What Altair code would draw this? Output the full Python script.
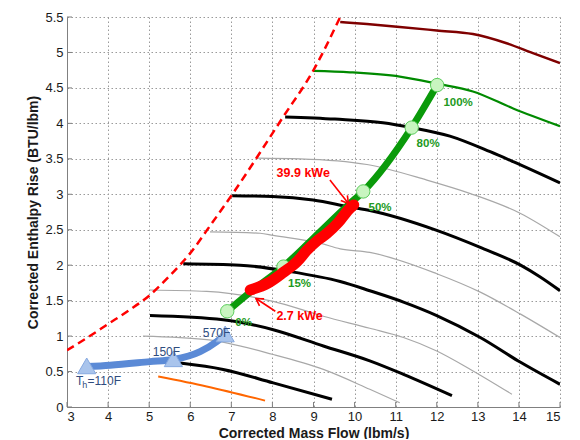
import math
import altair as alt
import pandas as pd

# ---------------- data ----------------
x_ticks = [3, 4, 5, 6, 7, 8, 9, 10, 11, 12, 13, 14, 15]
y_ticks = [0, 0.5, 1, 1.5, 2, 2.5, 3, 3.5, 4, 4.5, 5, 5.5]

surge_x = [3.0, 3.5, 4.0, 4.5, 5.0, 5.5, 6.0, 6.5, 7.0, 8.26, 9.0, 9.65]
surge_y = [0.80, 0.98, 1.17, 1.36, 1.57, 1.85, 2.17, 2.57, 2.98, 4.09, 4.75, 5.5]

maroon_x = [9.65, 10.3, 11.1, 12.0, 12.88, 13.7, 14.34, 15.0]
maroon_y = [5.43, 5.40, 5.36, 5.31, 5.26, 5.13, 4.99, 4.85]

green_speed_x = [8.99, 9.89, 11.1, 12.01, 12.88, 13.86, 15.0]
green_speed_y = [4.74, 4.72, 4.66, 4.56, 4.45, 4.21, 3.96]

black1_x = [8.31, 9.52, 10.69, 11.39, 12.32, 13.3, 13.86, 15.0]
black1_y = [4.09, 4.06, 4.01, 3.94, 3.82, 3.60, 3.46, 3.16]
black2_x = [7.02, 8.0, 8.99, 9.89, 10.37, 12.0, 13.06, 14.04, 14.5, 15.0]
black2_y = [2.98, 2.97, 2.92, 2.82, 2.77, 2.49, 2.25, 2.00, 1.84, 1.64]
black3_x = [5.83, 7.21, 8.43, 9.65, 10.37, 11.19, 12.0, 13.06, 14.04, 15.0]
black3_y = [2.02, 2.00, 1.91, 1.77, 1.64, 1.48, 1.29, 0.98, 0.63, 0.32]
black4_x = [5.02, 6.80, 8.02, 9.24, 10.37, 11.19, 12.37]
black4_y = [1.29, 1.23, 1.09, 0.86, 0.65, 0.46, 0.16]
black5_x = [5.75, 6.80, 8.02, 9.45]
black5_y = [0.62, 0.53, 0.34, 0.11]

gray1_x = [7.62, 8.67, 10.3, 11.76, 12.82, 14.04, 15.0]
gray1_y = [3.51, 3.50, 3.42, 3.20, 3.01, 2.73, 2.40]
gray2_x = [6.48, 7.70, 8.02, 9.16, 9.65, 10.37, 12.0, 13.06, 14.04, 15.0]
gray2_y = [2.47, 2.45, 2.42, 2.31, 2.23, 2.18, 1.88, 1.62, 1.31, 0.98]
gray3_x = [5.02, 6.40, 8.02, 9.24, 10.37, 11.19, 12.0, 12.82, 13.83]
gray3_y = [1.65, 1.63, 1.49, 1.28, 1.11, 0.98, 0.79, 0.53, 0.18]
gray4_x = [4.85, 6.40, 8.02, 9.24, 10.37, 11.1]
gray4_y = [1.00, 0.95, 0.74, 0.53, 0.25, 0.06]

orange_x = [5.22, 6.40, 7.82]
orange_y = [0.43, 0.29, 0.09]

blue_x = [3.48, 4.05, 5.02, 5.59, 6.24, 6.64, 6.85]
blue_y = [0.57, 0.59, 0.64, 0.67, 0.78, 0.92, 1.02]
blue_tri_x = [3.48, 5.59, 6.85]
blue_tri_y = [0.58, 0.68, 1.03]
blue_labels = ["570F", "150F"]
blue_label_x = [6.64, 5.42]
blue_label_y = [1.05, 0.77]
th_parts = ["T", "h", "=110F"]
th_x = [3.22, 3.37, 3.50]
th_y = [0.36, 0.31, 0.36]

op_x = [6.90, 7.46, 8.27, 9.0, 9.85, 10.21, 11.39, 12.01]
op_y = [1.35, 1.62, 1.98, 2.38, 2.85, 3.04, 3.94, 4.54]
op_mark_x = [6.90, 8.27, 10.21, 11.39, 12.01]
op_mark_y = [1.35, 1.98, 3.04, 3.94, 4.54]
pct_labels = ["0%", "15%", "50%", "80%", "100%"]
pct_x = [7.30, 8.66, 10.62, 11.79, 12.52]
pct_y = [1.18, 1.74, 2.80, 3.71, 4.29]

red_x = [7.46, 7.9, 8.27, 8.6, 8.84, 9.1, 9.33, 9.6, 9.85, 9.98]
red_y = [1.65, 1.75, 1.90, 2.05, 2.21, 2.35, 2.45, 2.60, 2.78, 2.85]

kwe_labels = ["39.9 kWe", "2.7 kWe"]
kwe_x = [8.75, 8.66]
kwe_y = [3.30, 1.29]
arrow_tail_x = [9.40, 8.07]
arrow_tail_y = [3.20, 1.35]
arrow_tip_x = [9.85, 7.60]
arrow_tip_y = [2.87, 1.53]

# ---------------- helpers ----------------
W, H = 493, 390
X_DOM = [3, 15]
Y_DOM = [0, 5.5]


def lines_df(pairs):
    rows = []
    for i, (xs_, ys_) in enumerate(pairs):
        for j, (a, b) in enumerate(zip(xs_, ys_)):
            rows.append({"id": i, "o": j, "x": a, "y": b})
    return pd.DataFrame(rows)


xs = alt.Scale(domain=X_DOM, nice=False, zero=False)
ys = alt.Scale(domain=Y_DOM, nice=False, zero=False)
x_axis = alt.Axis(values=x_ticks, title="Corrected Mass Flow (lbm/s)", format="~g")
y_axis = alt.Axis(values=y_ticks, title="Corrected Enthalpy Rise (BTU/lbm)", format="~g")
X = alt.X("x:Q", scale=xs, axis=x_axis)
Y = alt.Y("y:Q", scale=ys, axis=y_axis)


def line_layer(pairs, color, width, **kw):
    return alt.Chart(lines_df(pairs)).mark_line(
        color=color, strokeWidth=width, interpolate="monotone", clip=True, **kw
    ).encode(x=X, y=Y, detail="id:N", order="o:Q")


gray = line_layer([(gray1_x, gray1_y), (gray2_x, gray2_y), (gray3_x, gray3_y),
                   (gray4_x, gray4_y)], "#a8a8a8", 1.2)
black = line_layer([(black1_x, black1_y), (black2_x, black2_y), (black3_x, black3_y),
                    (black4_x, black4_y), (black5_x, black5_y)], "#000000", 3)
maroon = line_layer([(maroon_x, maroon_y)], "#7f0000", 2.5)
gspeed = line_layer([(green_speed_x, green_speed_y)], "#008a00", 2.2)
orange = line_layer([(orange_x, orange_y)], "#ff6600", 2)
surge = line_layer([(surge_x, surge_y)], "#ff0000", 2.5, strokeDash=[8, 5])
blue = line_layer([(blue_x, blue_y)], "#5b8ad6", 7, strokeCap="round")
opline = line_layer([(op_x, op_y)], "#0a9a0a", 7, strokeCap="round")
redband = line_layer([(red_x, red_y)], "#ff0000", 11, strokeCap="round", strokeJoin="round")

# inward ticks
xt = alt.Chart(pd.DataFrame({"x": x_ticks})).mark_rule(color="#7f7f7f", strokeWidth=1).encode(
    x=X, y=alt.value(H - 5), y2=alt.value(H))
yt = alt.Chart(pd.DataFrame({"y": y_ticks})).mark_rule(color="#7f7f7f", strokeWidth=1).encode(
    y=Y, x=alt.value(0), x2=alt.value(5))

tri = alt.Chart(pd.DataFrame({"x": blue_tri_x, "y": blue_tri_y})).mark_point(
    shape="triangle-up", filled=True, fill="#a9c4ec", stroke="#86a9e0", strokeWidth=1,
    size=330, opacity=1).encode(x=X, y=Y)

blue_txt = alt.Chart(pd.DataFrame({"x": blue_label_x, "y": blue_label_y, "t": blue_labels})).mark_text(
    font="Liberation Sans", fontSize=12, color="#2f4c7e", align="center", baseline="middle").encode(
    x=X, y=Y, text="t:N")
th_df = pd.DataFrame({"x": th_x, "y": th_y, "t": th_parts, "s": [12, 9, 12]})
th_txt = alt.Chart(th_df).mark_text(
    font="Liberation Sans", color="#2f4c7e", align="left", baseline="middle").encode(
    x=X, y=Y, text="t:N", size=alt.Size("s:Q", scale=None, legend=None))

pct_txt = alt.Chart(pd.DataFrame({"x": pct_x, "y": pct_y, "t": pct_labels})).mark_text(
    font="Liberation Sans", fontSize=11.5, fontWeight="bold", color="#229a22",
    align="center", baseline="middle").encode(x=X, y=Y, text="t:N")

markers = alt.Chart(pd.DataFrame({"x": op_mark_x, "y": op_mark_y})).mark_point(
    shape="circle", filled=True, fill="#c8f5c0", stroke="#5ccc5c", strokeWidth=1,
    size=180, opacity=1).encode(x=X, y=Y)

kwe_txt = alt.Chart(pd.DataFrame({"x": kwe_x, "y": kwe_y, "t": kwe_labels})).mark_text(
    font="Liberation Sans", fontSize=12.5, fontWeight="bold", color="#ff0000",
    align="center", baseline="middle").encode(x=X, y=Y, text="t:N")

arrow_df = pd.DataFrame({"x": arrow_tail_x, "y": arrow_tail_y,
                         "x2": arrow_tip_x, "y2": arrow_tip_y})
px_x = W / (X_DOM[1] - X_DOM[0])
px_y = H / (Y_DOM[1] - Y_DOM[0])
arrow_df["ang"] = [
    (math.degrees(math.atan2(-(b2 - b1) * px_y, (a2 - a1) * px_x)) + 360) % 360
    for a1, b1, a2, b2 in zip(arrow_tail_x, arrow_tail_y, arrow_tip_x, arrow_tip_y)
]
shaft = alt.Chart(arrow_df).mark_rule(color="#ff0000", strokeWidth=1.6).encode(
    x=X, y=Y, x2="x2:Q", y2="y2:Q")
head = alt.Chart(arrow_df).mark_point(
    shape="M-1,-0.6L0,0L-1,0.6", filled=False, color="#ff0000", strokeWidth=1.6,
    size=196, opacity=1).encode(
    x=alt.X("x2:Q", scale=xs, axis=x_axis), y=alt.Y("y2:Q", scale=ys, axis=y_axis),
    angle=alt.Angle("ang:Q", scale=None))

chart = alt.layer(
    xt, yt, gray, black, maroon, gspeed, orange, surge, blue, tri,
    opline, pct_txt, markers, redband, shaft, head, kwe_txt, blue_txt, th_txt
).properties(
    width=W, height=H,
    autosize=alt.AutoSizeParams(type="none"),
    padding={"left": 59, "top": 9, "right": 12, "bottom": 32},
    background="white",
).configure_view(stroke=None).configure_axis(
    grid=True, gridDash=[1.5, 2.5], gridColor="#9a9a9a", gridWidth=1,
    domainColor="#808080", domainWidth=1, tickSize=0,
    labelFont="Liberation Sans", labelFontSize=13, labelColor="#1a1a1a", labelPadding=3,
    titleFont="Liberation Sans", titleFontSize=14, titleFontWeight="bold", titleColor="#1a1a1a",
).configure_axisY(titlePadding=4, labelPadding=4).configure_axisX(titlePadding=3)

chart.save("out.html", embed_options={"renderer": "svg", "actions": False})
